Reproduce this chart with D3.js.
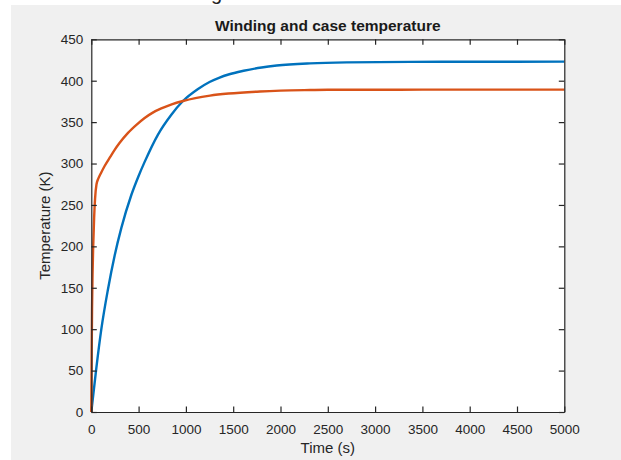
<!DOCTYPE html>
<html>
<head>
<meta charset="utf-8">
<script src="https://cdn.jsdelivr.net/npm/d3@7"></script>
<style>
  html, body { margin: 0; padding: 0; background: #fff; }
  svg { display: block; }
  text { font-family: "Liberation Sans", Arial, sans-serif; }
</style>
</head>
<body>
<div id="chart"></div>
<script>
// Data
const windingTime = [0, 50, 106, 176, 247, 317, 423, 500, 564, 705, 846, 969, 1128, 1250, 1350, 1450, 1610, 1800, 1960, 2312, 2700, 3369, 4000, 5000];
const windingTemp = [0, 50, 100, 148, 189, 222, 262, 285, 302, 335, 359, 375.5, 390, 398.5, 403.5, 407.5, 412, 416, 418.3, 420.9, 422.1, 422.7, 422.9, 423];

const caseTime = [0, 4, 8, 13, 20, 30, 40, 55, 75, 100, 141, 200, 247, 300, 388, 480, 564, 650, 740, 850, 969, 1100, 1255, 1450, 1783, 2000, 2312, 2500, 3000, 3500, 4000, 4500, 5000];
const caseTemp = [0, 70, 125, 165, 200, 235, 258, 275, 282, 288, 297, 308, 316.5, 325, 337, 347, 355, 361.5, 366.5, 371.5, 375.5, 379, 382, 384.5, 387, 388, 388.7, 389, 389.1, 389.2, 389.2, 389.2, 389.2];

const xTicks = [0, 500, 1000, 1500, 2000, 2500, 3000, 3500, 4000, 4500, 5000];
const yTicks = [0, 50, 100, 150, 200, 250, 300, 350, 400, 450];

const titleText = "Winding and case temperature";
const xLabel = "Time (s)";
const yLabel = "Temperature (K)";

// Layout
const W = 621, H = 460;
const plot = { left: 91.3, right: 564.3, top: 39.3, bottom: 412 };
const axisColor = "#262626";

const svg = d3.select("#chart").append("svg")
  .attr("width", W)
  .attr("height", H);

// figure background (white strip top/left like the cropped screenshot)
svg.append("rect")
  .attr("x", 11).attr("y", 5)
  .attr("width", W - 11).attr("height", H - 5)
  .attr("fill", "#f0f0f0");

// cut-off caption letter at the very top
svg.append("text")
  .attr("x", 211).attr("y", -0.5)
  .attr("font-family", "Liberation Serif, serif")
  .attr("font-size", 20)
  .attr("fill", "#222")
  .text("g");

// axes area
svg.append("rect")
  .attr("x", plot.left).attr("y", plot.top)
  .attr("width", plot.right - plot.left)
  .attr("height", plot.bottom - plot.top)
  .attr("fill", "#fff");

const x = d3.scaleLinear().domain([0, 5000]).range([plot.left, plot.right]);
const y = d3.scaleLinear().domain([0, 450]).range([plot.bottom, plot.top]);

// lines
const line = d3.line()
  .x(d => x(d[0]))
  .y(d => y(d[1]))
  .curve(d3.curveMonotoneX);

svg.append("path")
  .datum(d3.zip(windingTime, windingTemp))
  .attr("fill", "none")
  .attr("stroke", "#0072BD")
  .attr("stroke-width", 2.4)
  .attr("d", line);

svg.append("path")
  .datum(d3.zip(caseTime, caseTemp))
  .attr("fill", "none")
  .attr("stroke", "#D95319")
  .attr("stroke-width", 2.4)
  .attr("d", line);

// axes, MATLAB style ticks pointing inward
function styleAxis(g) {
  g.select(".domain").attr("stroke", axisColor).attr("stroke-width", 1.2);
  g.selectAll(".tick line").attr("stroke", axisColor).attr("stroke-width", 1.2);
  g.selectAll(".tick text")
    .attr("fill", axisColor)
    .attr("font-size", 13.5)
    .attr("font-family", "Liberation Sans, Arial, sans-serif");
}

const fmt = d3.format("d");

svg.append("g")
  .attr("transform", `translate(0,${plot.bottom})`)
  .call(d3.axisBottom(x).tickValues(xTicks).tickFormat(fmt).tickSizeInner(-5.5).tickSizeOuter(0).tickPadding(12))
  .call(styleAxis);

svg.append("g")
  .attr("transform", `translate(${plot.left},0)`)
  .call(d3.axisLeft(y).tickValues(yTicks).tickFormat(fmt).tickSizeInner(-5.5).tickSizeOuter(0).tickPadding(8))
  .call(styleAxis);

svg.append("g")
  .attr("transform", `translate(0,${plot.top})`)
  .call(d3.axisTop(x).tickValues(xTicks).tickSizeInner(-5.5).tickSizeOuter(0).tickFormat(""))
  .call(styleAxis);

svg.append("g")
  .attr("transform", `translate(${plot.right},0)`)
  .call(d3.axisRight(y).tickValues(yTicks).tickSizeInner(-5.5).tickSizeOuter(0).tickFormat(""))
  .call(styleAxis);

// title and labels
const cx = (plot.left + plot.right) / 2;
svg.append("text")
  .attr("x", cx).attr("y", 31)
  .attr("text-anchor", "middle")
  .attr("font-size", 15.5)
  .attr("font-weight", "bold")
  .attr("fill", "#1a1a1a")
  .text(titleText);

svg.append("text")
  .attr("x", cx).attr("y", 453)
  .attr("text-anchor", "middle")
  .attr("font-size", 15)
  .attr("fill", axisColor)
  .text(xLabel);

svg.append("text")
  .attr("transform", "rotate(-90)")
  .attr("x", -(plot.top + plot.bottom) / 2)
  .attr("y", 50)
  .attr("text-anchor", "middle")
  .attr("font-size", 15)
  .attr("fill", axisColor)
  .text(yLabel);
</script>
</body>
</html>
